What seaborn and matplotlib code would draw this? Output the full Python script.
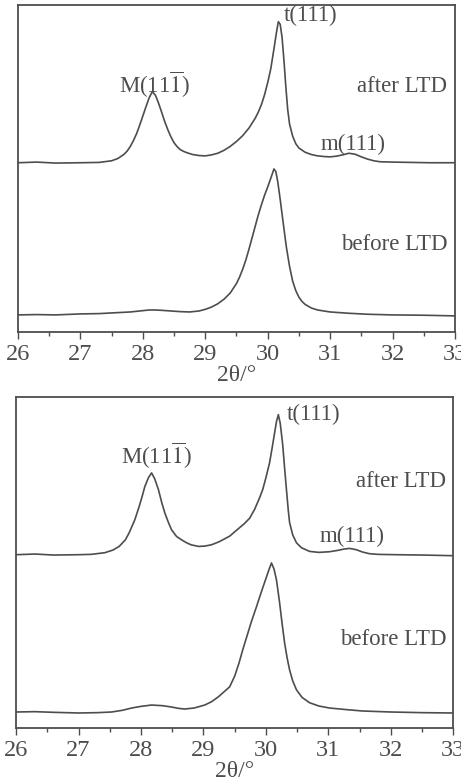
import numpy as np
import pandas as pd
import matplotlib
matplotlib.use("Agg")
import matplotlib.pyplot as plt
from matplotlib.ticker import MultipleLocator
import seaborn as sns

# ---- data (relative intensity, a.u.) ----
# upper panel, after LTD
two_theta_a1 = [26.0, 26.3, 26.6, 27.0, 27.3, 27.5, 27.6, 27.7, 27.75, 27.8, 27.85, 27.9,
                27.95, 28.0, 28.05, 28.1, 28.15, 28.2, 28.25, 28.3, 28.35, 28.4, 28.45,
                28.5, 28.55, 28.6, 28.65, 28.7, 28.8, 28.9, 29.0, 29.1, 29.2, 29.3, 29.4,
                29.5, 29.6, 29.7, 29.8, 29.85, 29.9, 29.95, 30.0, 30.05, 30.1, 30.14,
                30.17, 30.2, 30.23, 30.26, 30.29, 30.32, 30.35, 30.4, 30.45, 30.5, 30.6,
                30.7, 30.8, 30.9, 31.0, 31.1, 31.2, 31.3, 31.4, 31.5, 31.6, 31.7, 31.8,
                32.0, 32.3, 32.6, 33.0]
after_1 = [51.7, 51.9, 51.6, 51.7, 51.8, 52.3, 53.0, 54.3, 55.3, 56.7, 58.5, 60.6,
           63.2, 66.0, 68.8, 71.5, 73.4, 72.4, 70.0, 67.2, 64.3, 61.8, 59.6,
           57.8, 56.6, 55.7, 55.2, 54.8, 54.2, 53.9, 53.8, 54.1, 54.6, 55.5, 56.7,
           58.2, 60.0, 62.3, 65.3, 67.2, 69.5, 72.5, 76.2, 80.5, 86.5, 91.5,
           94.8, 94.0, 90.0, 83.0, 75.0, 68.0, 63.5, 59.8, 57.5, 56.2, 54.9,
           54.2, 53.8, 53.6, 53.5, 53.7, 54.1, 54.6, 54.3, 53.5, 52.8, 52.3, 52.0,
           51.9, 51.8, 51.7, 51.7]
# upper panel, before LTD
two_theta_b1 = [26.0, 26.3, 26.6, 27.0, 27.3, 27.6, 27.8, 28.0, 28.1, 28.2, 28.3, 28.45,
                28.6, 28.75, 28.9, 29.0, 29.1, 29.2, 29.3, 29.4, 29.5, 29.55, 29.6, 29.65,
                29.7, 29.75, 29.8, 29.85, 29.9, 29.95, 30.0, 30.05, 30.1, 30.13, 30.16,
                30.2, 30.25, 30.3, 30.35, 30.4, 30.45, 30.5, 30.55, 30.6, 30.7, 30.8,
                30.9, 31.0, 31.3, 31.6, 32.0, 32.5, 33.0]
before_1 = [5.2, 5.3, 5.2, 5.5, 5.6, 5.9, 6.1, 6.5, 6.7, 6.7, 6.6, 6.4,
            6.2, 6.1, 6.4, 6.9, 7.6, 8.6, 10.0, 11.9, 14.8, 16.8, 19.2, 22.0,
            25.3, 28.8, 32.3, 35.8, 38.9, 41.8, 44.3, 47.0, 49.8, 49.0, 46.0,
            40.5, 33.0, 25.8, 20.0, 15.5, 12.6, 10.6, 9.3, 8.4, 7.3, 6.7,
            6.4, 6.1, 5.7, 5.4, 5.2, 5.1, 4.9]

# lower panel, after LTD
two_theta_a2 = [26.0, 26.3, 26.6, 27.0, 27.2, 27.42, 27.55, 27.65, 27.75, 27.81, 27.9,
                27.97, 28.02, 28.06, 28.12, 28.17, 28.22, 28.28, 28.33, 28.38, 28.44,
                28.49, 28.57, 28.65, 28.72, 28.8, 28.92, 29.02, 29.13, 29.25, 29.35,
                29.42, 29.55, 29.65, 29.74, 29.82, 29.9, 29.95, 30.0, 30.06, 30.1,
                30.14, 30.17, 30.2, 30.23, 30.27, 30.3, 30.33, 30.36, 30.38, 30.43,
                30.49, 30.57, 30.7, 30.85, 31.02, 31.15, 31.25, 31.34, 31.45, 31.55,
                31.66, 31.8, 32.09, 32.5, 33.0]
after_2 = [52.3, 52.5, 52.2, 52.3, 52.4, 52.9, 53.7, 54.8, 56.8, 58.9, 62.8,
           66.8, 70.0, 72.8, 75.6, 77.0, 75.2, 71.9, 68.2, 65.0, 62.0,
           59.8, 57.8, 56.8, 56.0, 55.3, 54.8, 54.9, 55.3, 56.2, 57.2,
           57.9, 60.0, 61.6, 63.3, 66.0, 69.5, 72.0, 75.5, 80.1, 84.5,
           89.1, 92.5, 94.6, 92.0, 85.5, 78.5, 71.9, 65.5, 62.0, 58.3,
           55.9, 54.4, 53.3, 53.0, 53.2, 53.6, 54.0, 54.2, 53.8, 53.1,
           52.6, 52.4, 52.3, 52.2, 52.0]
# lower panel, before LTD
two_theta_b2 = [26.0, 26.3, 26.6, 27.0, 27.3, 27.53, 27.7, 27.85, 28.0, 28.17, 28.35,
                28.49, 28.6, 28.7, 28.85, 29.02, 29.13, 29.24, 29.33, 29.42, 29.5,
                29.57, 29.63, 29.7, 29.77, 29.85, 29.93, 30.01, 30.05, 30.09, 30.13,
                30.17, 30.22, 30.26, 30.3, 30.34, 30.38, 30.43, 30.49, 30.58, 30.7,
                30.85, 31.02, 31.3, 31.55, 32.0, 32.5, 33.0]
before_2 = [4.8, 4.9, 4.7, 4.5, 4.6, 4.8, 5.3, 6.0, 6.5, 6.9, 6.7,
            6.3, 5.9, 5.7, 6.0, 6.9, 7.9, 9.4, 10.9, 12.4, 15.6,
            19.6, 23.6, 27.9, 32.2, 36.6, 41.2, 45.6, 47.8, 49.8, 48.0,
            44.7, 37.8, 31.5, 25.7, 21.2, 17.5, 14.2, 11.5, 9.2, 7.6,
            6.6, 6.0, 5.5, 5.1, 4.8, 4.6, 4.5]

peak_labels = ["M(11$\\overline{1}$)", "t(111)", "m(111)"]
state_labels = ["after LTD", "before LTD"]
x_ticks = [26, 27, 28, 29, 30, 31, 32, 33]

panels = [
    dict(a=(two_theta_a1, after_1), b=(two_theta_b1, before_1),
         M=(28.18, 75.4), t=(30.25, 96.6), m=(30.84, 57.2),
         after=(32.875, 74.9), before=(32.875, 26.6)),
    dict(a=(two_theta_a2, after_2), b=(two_theta_b2, before_2),
         M=(28.25, 82.1), t=(30.33, 94.6), m=(30.86, 57.7),
         after=(32.89, 74.3), before=(32.89, 26.6)),
]

sns.set_style("ticks")
plt.rcParams["font.family"] = ["Liberation Serif", "DejaVu Serif"]
plt.rcParams["mathtext.fontset"] = "stix"

ink = "#4d4d4d"
fig = plt.figure(figsize=(4.61, 7.81), dpi=100)
rects = [[0.039, 0.575, 0.948, 0.419], [0.035, 0.068, 0.948, 0.424]]

for rect, p in zip(rects, panels):
    ax = fig.add_axes(rect)
    for xs, ys in (p["a"], p["b"]):
        df = pd.DataFrame({"two_theta": xs, "intensity": ys})
        sns.lineplot(data=df, x="two_theta", y="intensity", ax=ax,
                     color=ink, lw=1.2)
    ax.set_xlim(26, 33)
    ax.set_ylim(0, 100)
    ax.set_yticks([])
    ax.set_ylabel("")
    ax.set_xticks(x_ticks)
    ax.xaxis.set_minor_locator(MultipleLocator(0.5))
    ax.tick_params(axis="x", which="major", direction="out", length=5, width=1,
                   color=ink, labelsize=17.5, labelcolor=ink, pad=4)
    ax.tick_params(axis="x", which="minor", direction="out", length=3, width=1,
                   color=ink)
    for s in ax.spines.values():
        s.set_color(ink)
        s.set_linewidth(1.3)
    ax.set_xlabel("2θ/°", fontsize=17, color=ink, labelpad=-0.5)

    fs = 16.5
    ax.text(*p["M"], peak_labels[0], ha="center", va="center", fontsize=fs, color=ink)
    ax.text(*p["t"], peak_labels[1], ha="left", va="center", fontsize=fs, color=ink)
    ax.text(*p["m"], peak_labels[2], ha="left", va="center", fontsize=fs, color=ink)
    ax.text(*p["after"], state_labels[0], ha="right", va="center", fontsize=fs, color=ink)
    ax.text(*p["before"], state_labels[1], ha="right", va="center", fontsize=fs, color=ink)

fig.savefig("out.png", dpi=100)
